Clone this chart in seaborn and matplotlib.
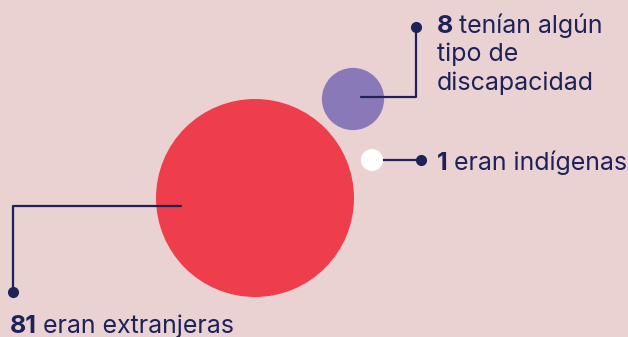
import pandas as pd
import seaborn as sns
import matplotlib.pyplot as plt

# datos
grupos = ['extranjeras', 'discapacidad', 'indigenas']
valores = [81, 8, 1]
etiquetas = ['eran extranjeras', 'tenían algún\ntipo de\ndiscapacidad', 'eran indígenas']
colores = ['#EE3E4B', '#8A79B9', '#FFFFFF']

# posiciones de los círculos (px)
pos_x = [255, 353, 372]
pos_y = [198, 99, 160]

fondo = '#EAD1D2'
tinta = '#1E2259'

sns.set_theme(style='white')
plt.rcParams['font.family'] = ['Inter', 'DejaVu Sans']

df = pd.DataFrame({'grupo': grupos, 'valor': valores, 'x': pos_x, 'y': pos_y})

fig = plt.figure(figsize=(6.28, 3.37), dpi=100, facecolor=fondo)
ax = fig.add_axes([0, 0, 1, 1])
ax.set_facecolor(fondo)

# area proporcional al valor (radio rojo ~99 px)
s_max = (2 * 99 * 0.72) ** 2
sns.scatterplot(data=df, x='x', y='y', hue='grupo', palette=colores,
                size='valor', size_norm=(0, max(valores)), sizes=(0, s_max),
                linewidth=0, legend=False, ax=ax, zorder=2)

# conectores
lw = 1.6
ax.plot([361, 416, 416], [97, 97, 27], color=tinta, lw=lw, zorder=3)
ax.plot([416], [27], 'o', color=tinta, ms=7, zorder=3)
ax.plot([372, 421], [160, 160], color=tinta, lw=lw, zorder=1)
ax.plot([421], [160], 'o', color=tinta, ms=7, zorder=3)
ax.plot([181, 13, 13], [206, 206, 292], color=tinta, lw=lw, zorder=3)
ax.plot([13], [292], 'o', color=tinta, ms=7, zorder=3)

# textos
fs = 18
def etiqueta(x, y, num, txt, va='baseline'):
    t = ax.text(x, y, str(num), fontsize=fs, fontweight='bold', color=tinta, va=va, ha='left')
    fig.canvas.draw()
    w = t.get_window_extent().width
    lineas = txt.split('\n')
    ax.text(x + w + 6, y, lineas[0], fontsize=fs, color=tinta, va=va, ha='left')
    for i, l in enumerate(lineas[1:], 1):
        ax.text(x, y + i * 28.5, l, fontsize=fs, color=tinta, va=va, ha='left')

etiqueta(437, 33, valores[1], etiquetas[1])
etiqueta(437, 170, valores[2], etiquetas[2])
etiqueta(10, 333, valores[0], etiquetas[0])

ax.set_xlim(0, 628)
ax.set_ylim(337, 0)
ax.set_aspect('auto')
ax.axis('off')

plt.savefig('out.png', dpi=100, facecolor=fondo)
